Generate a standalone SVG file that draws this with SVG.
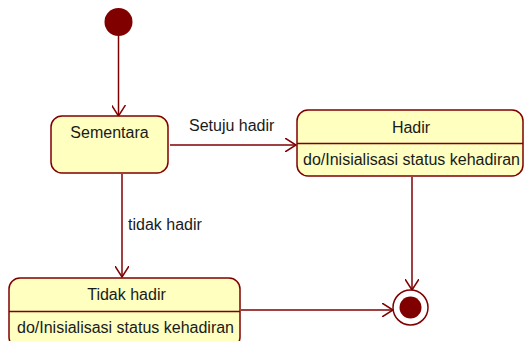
<svg xmlns="http://www.w3.org/2000/svg" width="524" height="341" viewBox="0 0 524 341">
<defs>
<style>
.st{fill:#ffffc0;stroke:#800000;stroke-width:1.5}
.ln{fill:none;stroke:#800000;stroke-width:1.5}
.tx{font-family:"Liberation Sans",Arial,sans-serif;font-size:16px;fill:#1a1a1a}
.c{text-anchor:middle}
</style>
<marker id="arr" viewBox="0 0 12 14" refX="11" refY="7" markerWidth="12" markerHeight="14" markerUnits="userSpaceOnUse" orient="auto">
<path d="M0,0 L11,7 L0,14" fill="none" stroke="#800000" stroke-width="1.5"/>
</marker>
</defs>
<g id="connectors">
<line class="ln" x1="118.5" y1="36" x2="118.5" y2="116" marker-end="url(#arr)"/>
<line class="ln" x1="170" y1="145" x2="296" y2="145" marker-end="url(#arr)"/>
<text class="tx" x="189" y="131">Setuju hadir</text>
<line class="ln" x1="122" y1="174" x2="122" y2="277" marker-end="url(#arr)"/>
<text class="tx" x="128" y="230">tidak hadir</text>
<line class="ln" x1="412" y1="177" x2="412" y2="290" marker-end="url(#arr)"/>
<line class="ln" x1="241" y1="310" x2="393" y2="310" marker-end="url(#arr)"/>
</g>
<g id="initial">
<circle cx="118.5" cy="22" r="14" fill="#800000"/>
</g>
<g id="sementara">
<rect class="st" x="51" y="116" width="117" height="57" rx="11"/>
<text class="tx c" x="109.5" y="138">Sementara</text>
</g>
<g id="hadir">
<rect class="st" x="297" y="110" width="226" height="66" rx="11"/>
<line class="ln" x1="297" y1="143.5" x2="523" y2="143.5"/>
<text class="tx c" x="411" y="133">Hadir</text>
<text class="tx" x="303" y="165">do/Inisialisasi status kehadiran</text>
</g>
<g id="tidakhadir">
<rect class="st" x="9" y="278" width="231" height="70" rx="11"/>
<line class="ln" x1="9" y1="311.5" x2="240" y2="311.5"/>
<text class="tx c" x="126.5" y="300">Tidak hadir</text>
<text class="tx" x="17" y="333">do/Inisialisasi status kehadiran</text>
</g>
<g id="final">
<circle cx="410.5" cy="307.5" r="17.5" fill="#ffffff" stroke="#800000" stroke-width="1.5"/>
<circle cx="410.5" cy="307.5" r="11" fill="#800000"/>
</g>
</svg>
